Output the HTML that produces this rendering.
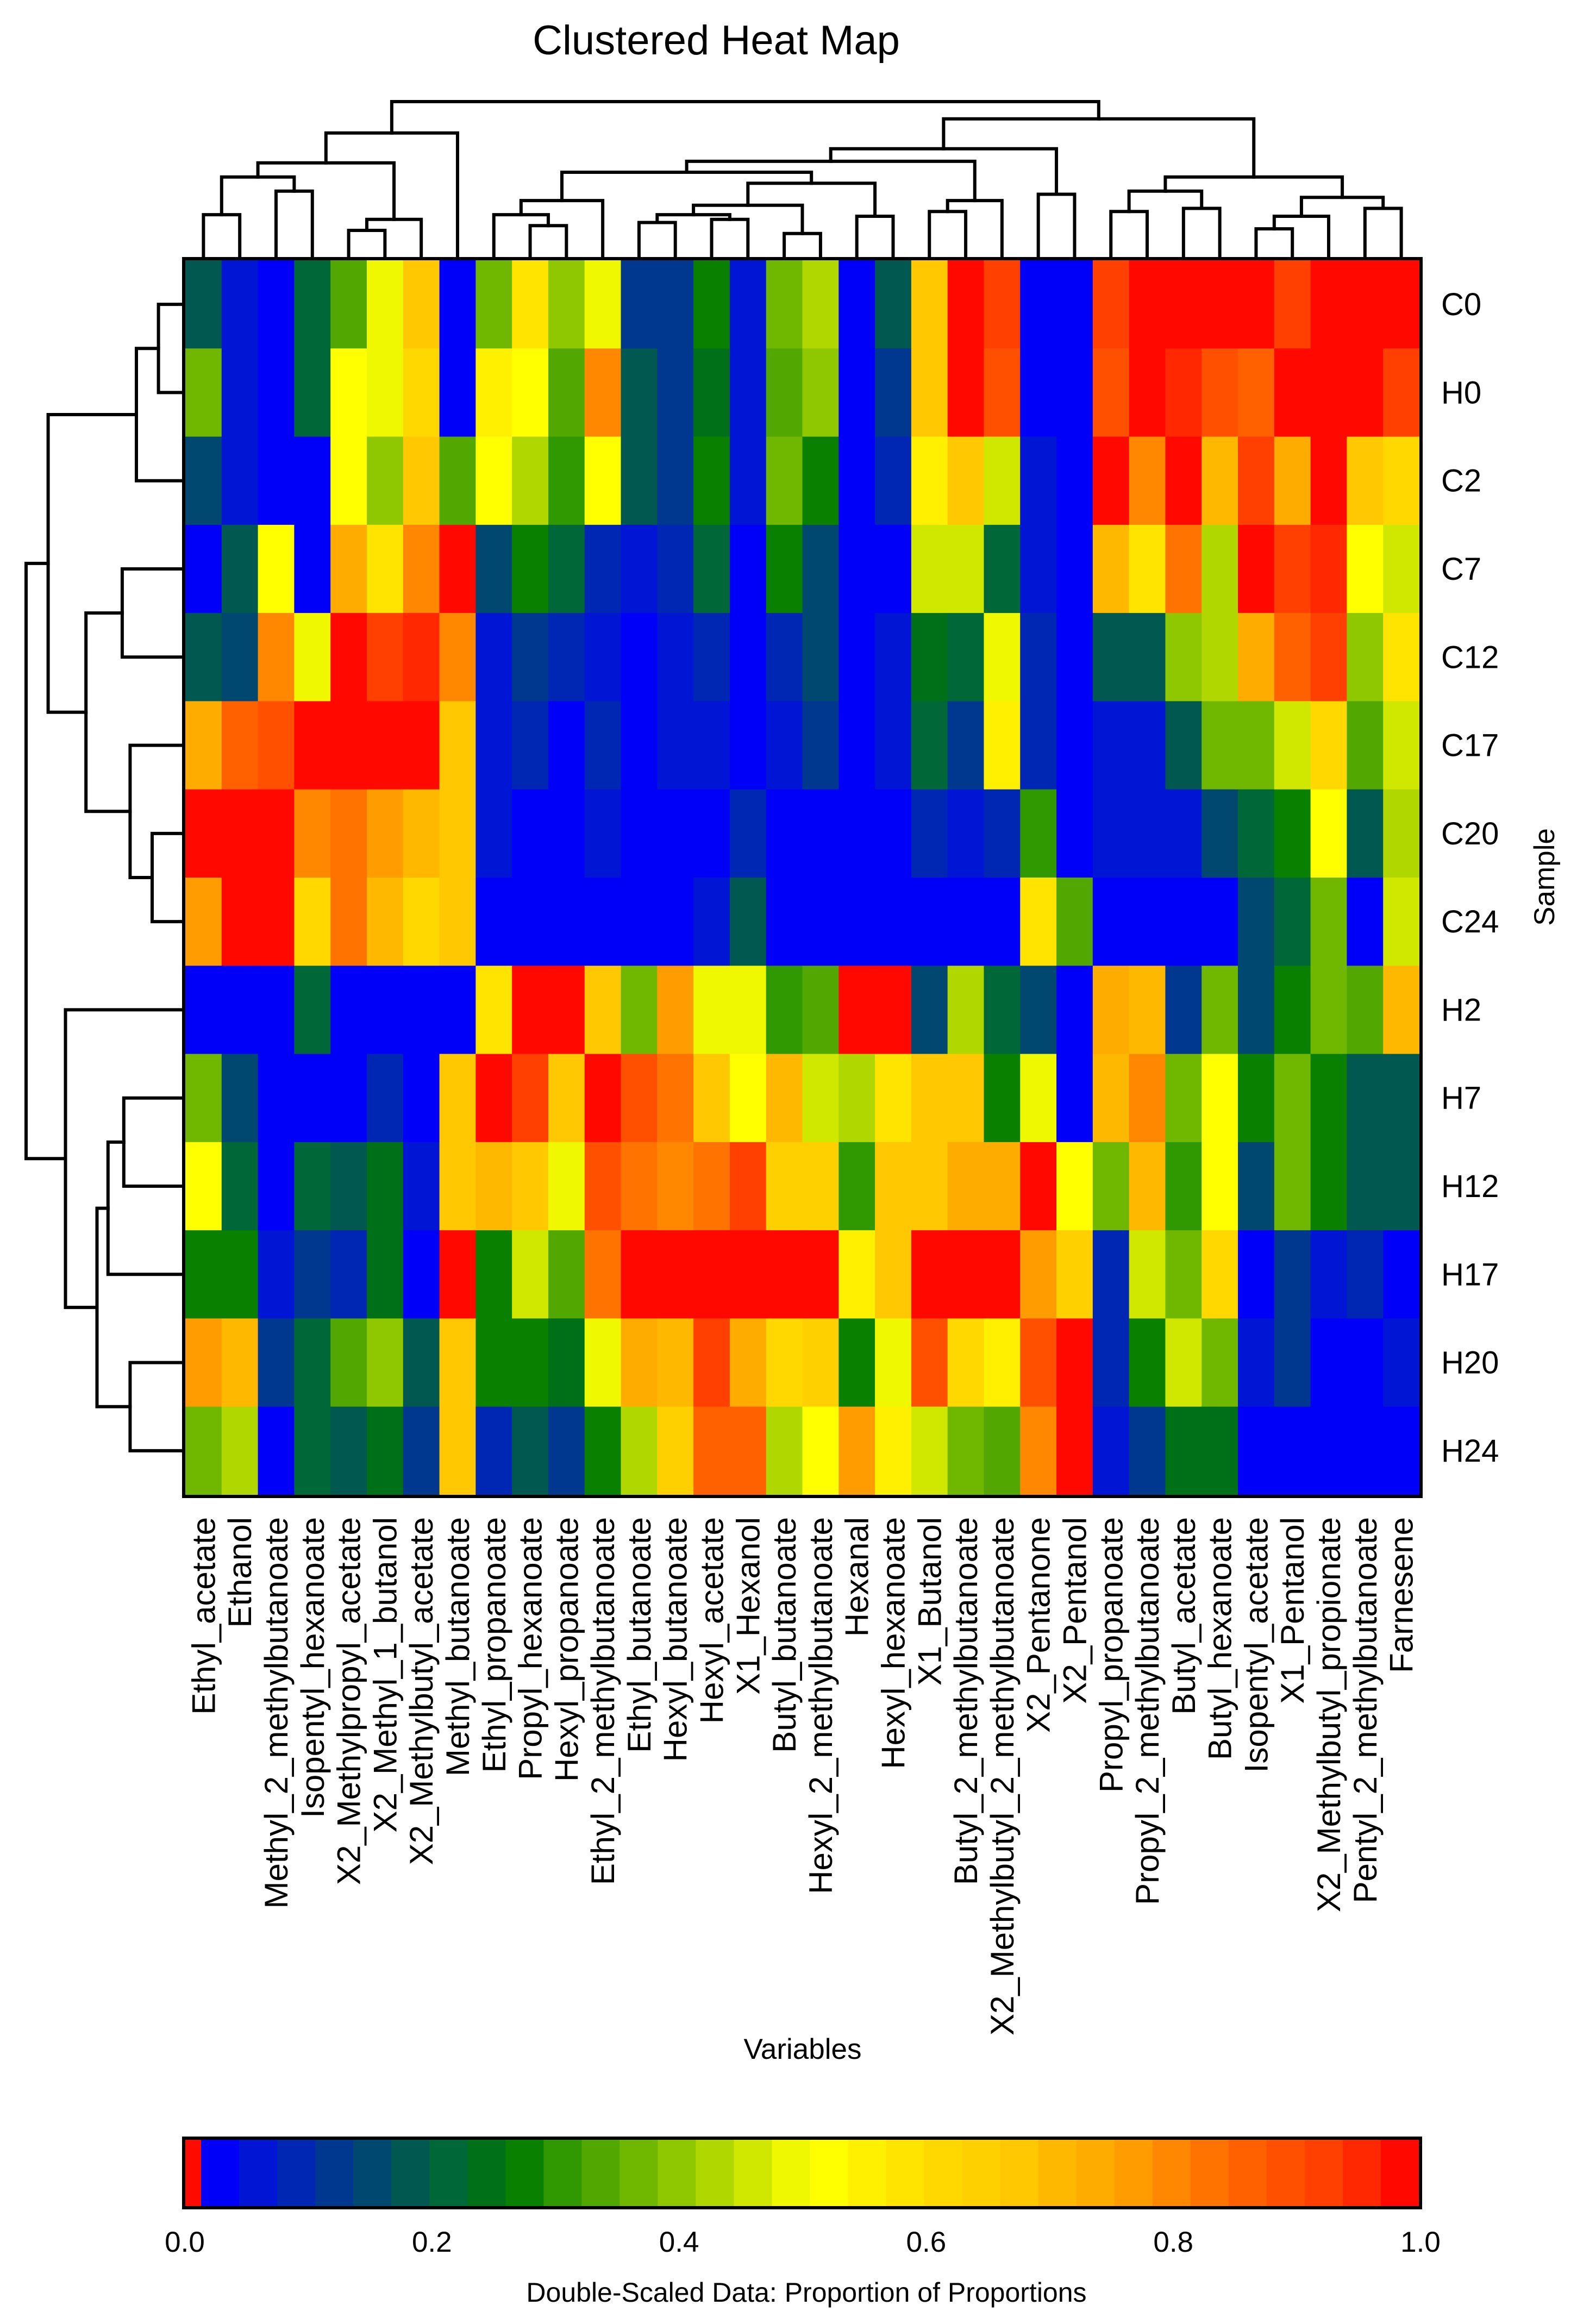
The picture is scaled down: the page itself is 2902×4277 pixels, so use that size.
<!DOCTYPE html>
<html><head><meta charset="utf-8"><title>Clustered Heat Map</title>
<style>html,body{margin:0;padding:0;background:#fff}svg{display:block}text{font-family:"Liberation Sans",Arial,sans-serif;fill:#000}</style>
</head><body>
<svg id="chart" xmlns="http://www.w3.org/2000/svg" width="2902" height="4277" viewBox="0 0 2902 4277">
<rect width="2902" height="4277" fill="#fff"/>
<text x="1318" y="100" font-size="76" text-anchor="middle">Clustered Heat Map</text>
<g id="top-dendro"></g>
<g id="left-dendro"></g>
<g id="cells"></g>
<rect x="338" y="476" width="2277" height="2278" fill="none" stroke="#000" stroke-width="6"/>
<g id="col-labels"></g>
<g id="row-labels"></g>
<text x="1477" y="3789" font-size="53" text-anchor="middle">Variables</text>
<text x="2860" y="1614" font-size="53" text-anchor="middle" transform="rotate(-90 2860 1614)">Sample</text>
<g id="cbar"></g>
<rect x="338" y="3935" width="2276" height="128" fill="none" stroke="#000" stroke-width="6"/>
<g id="cbar-ticks"></g>
<text x="1484" y="4236" font-size="50" text-anchor="middle">Double-Scaled Data: Proportion of Proportions</text>
</svg>
<script>
const columns = ["Ethyl_acetate","Ethanol","Methyl_2_methylbutanoate","Isopentyl_hexanoate","X2_Methylpropyl_acetate","X2_Methyl_1_butanol","X2_Methylbutyl_acetate","Methyl_butanoate","Ethyl_propanoate","Propyl_hexanoate","Hexyl_propanoate","Ethyl_2_methylbutanoate","Ethyl_butanoate","Hexyl_butanoate","Hexyl_acetate","X1_Hexanol","Butyl_butanoate","Hexyl_2_methylbutanoate","Hexanal","Hexyl_hexanoate","X1_Butanol","Butyl_2_methylbutanoate","X2_Methylbutyl_2_methylbutanoate","X2_Pentanone","X2_Pentanol","Propyl_propanoate","Propyl_2_methylbutanoate","Butyl_acetate","Butyl_hexanoate","Isopentyl_acetate","X1_Pentanol","X2_Methylbutyl_propionate","Pentyl_2_methylbutanoate","Farnesene"];
const rows = ["C0","H0","C2","C7","C12","C17","C20","C24","H2","H7","H12","H17","H20","H24"];
const rowC0  = [.18,.06,.03,.21,.34,.49,.68,.03,.37,.58,.40,.49,.12,.12,.28,.06,.37,.43,.03,.18,.68,.98,.92,.03,.03,.92,.98,.98,.98,.98,.92,.98,.98,.98];
const rowH0  = [.37,.06,.03,.21,.52,.49,.61,.03,.55,.52,.34,.80,.18,.12,.25,.06,.34,.40,.03,.12,.68,.98,.89,.03,.03,.89,.98,.95,.89,.86,.98,.98,.98,.92];
const rowC2  = [.15,.06,.03,.03,.52,.40,.68,.34,.52,.43,.31,.52,.18,.12,.28,.06,.37,.28,.03,.09,.55,.68,.46,.06,.03,.98,.80,.98,.71,.92,.74,.98,.68,.61];
const rowC7  = [.03,.18,.52,.03,.74,.58,.80,.98,.15,.28,.21,.09,.06,.09,.21,.03,.28,.15,.03,.03,.46,.46,.21,.06,.03,.71,.58,.83,.43,.98,.92,.95,.52,.46];
const rowC12 = [.18,.15,.80,.49,.98,.92,.95,.80,.06,.12,.09,.06,.03,.06,.09,.03,.09,.15,.03,.06,.25,.21,.49,.09,.03,.18,.18,.40,.43,.74,.86,.92,.40,.58];
const rowC17 = [.74,.86,.89,.98,.98,.98,.98,.68,.06,.09,.03,.09,.03,.06,.06,.03,.06,.12,.03,.06,.21,.12,.55,.09,.03,.06,.06,.18,.37,.37,.46,.61,.34,.46];
const rowC20 = [.98,.98,.98,.80,.83,.77,.71,.68,.06,.03,.03,.06,.03,.03,.03,.09,.03,.03,.03,.03,.09,.06,.09,.31,.03,.06,.06,.06,.15,.21,.28,.52,.18,.43];
const rowC24 = [.77,.98,.98,.61,.83,.71,.61,.68,.03,.03,.03,.03,.03,.03,.06,.18,.03,.03,.03,.03,.03,.03,.03,.58,.34,.03,.03,.03,.03,.15,.21,.37,.03,.46];
const rowH2  = [.03,.03,.03,.21,.03,.03,.03,.03,.58,.98,.98,.68,.37,.77,.49,.49,.31,.34,.98,.98,.15,.43,.21,.15,.03,.74,.71,.12,.37,.15,.28,.37,.34,.71];
const rowH7  = [.37,.15,.03,.03,.03,.09,.03,.68,.98,.92,.68,.98,.89,.83,.68,.52,.71,.46,.43,.58,.68,.68,.28,.49,.03,.71,.80,.37,.52,.28,.37,.28,.18,.18];
const rowH12 = [.52,.21,.03,.21,.18,.25,.06,.68,.71,.68,.49,.89,.83,.80,.83,.92,.65,.65,.31,.68,.68,.74,.74,.98,.52,.37,.71,.31,.52,.15,.37,.28,.18,.18];
const rowH17 = [.28,.28,.06,.12,.09,.25,.03,.98,.28,.46,.34,.83,.98,.98,.98,.98,.98,.98,.55,.68,.98,.98,.98,.77,.65,.09,.46,.37,.61,.03,.12,.06,.09,.03];
const rowH20 = [.77,.71,.12,.21,.34,.40,.18,.68,.28,.28,.25,.49,.74,.71,.92,.74,.61,.65,.28,.49,.89,.61,.55,.89,.98,.09,.28,.46,.37,.06,.12,.03,.03,.06];
const rowH24 = [.37,.43,.03,.21,.18,.25,.12,.68,.09,.18,.12,.28,.43,.65,.86,.86,.43,.52,.77,.55,.46,.37,.34,.80,.98,.06,.12,.25,.25,.03,.03,.03,.03,.03];
const values = [rowC0,rowH0,rowC2,rowC7,rowC12,rowC17,rowC20,rowC24,rowH2,rowH7,rowH12,rowH17,rowH20,rowH24];
const colMerges = [[0,1,.28],[2,3,.43],[34,35,.52],[4,5,.18],[37,6,.25],[36,38,.61],[39,7,.80],[9,10,.21],[8,41,.28],[42,11,.37],[12,13,.23],[14,15,.25],[44,45,.28],[16,17,.16],[46,47,.34],[18,19,.27],[48,49,.48],[43,50,.55],[20,21,.30],[52,22,.37],[51,53,.62],[23,24,.41],[54,55,.70],[25,26,.30],[27,28,.32],[57,58,.43],[29,30,.19],[60,31,.27],[32,33,.32],[61,62,.39],[59,63,.52],[56,64,.89],[40,65,1.0]];
const rowMerges = [[0,1,.16],[14,2,.30],[3,4,.39],[6,7,.20],[5,17,.34],[16,18,.62],[15,19,.86],[9,10,.38],[21,11,.48],[12,13,.34],[22,23,.55],[8,24,.75],[20,25,1.0]];
const palette = ["#0000f8","#0016d4","#0026b4","#003890","#004870","#005850","#006838","#007018","#0a8000","#309800","#52a800","#70b800","#90c800","#b0d800","#d0e800","#f0f800","#ffff00","#fff000","#ffe400","#ffd800","#ffd000","#ffc800","#ffb800","#ffac00","#ff9c00","#ff8800","#ff7400","#ff6000","#ff5000","#ff4000","#ff2800","#ff0800"];
const cbarTicks = [0,0.2,0.4,0.6,0.8,1.0];
const cbarTickLabels = ["0.0","0.2","0.4","0.6","0.8","1.0"];

const NS="http://www.w3.org/2000/svg";
const HX0=341,HX1=2612,HY0=479,HY1=2751;
const cw=(HX1-HX0)/columns.length, ch=(HY1-HY0)/rows.length;
const xCol=i=>HX0+(i+0.5)*cw, yRow=j=>HY0+(j+0.5)*ch;
const TOP_BASE=476, TOP_SCALE=289, LEFT_BASE=338, LEFT_SCALE=290;
const yTop=h=>TOP_BASE-h*TOP_SCALE, xLeft=h=>LEFT_BASE-h*LEFT_SCALE;
function colorFor(v){ if(v<0.0141) return "#ff0000"; let k=Math.floor((v-0.0141)/0.0308); k=Math.max(0,Math.min(31,k)); return palette[k]; }
function mk(tag,attrs,parent){const e=document.createElementNS(NS,tag);for(const k in attrs)e.setAttribute(k,attrs[k]);parent.appendChild(e);return e;}

const cells=document.getElementById("cells");
values.forEach((row,j)=>row.forEach((v,i)=>{
  const r=mk("rect",{x:(HX0+i*cw).toFixed(2),y:(HY0+j*ch).toFixed(2),width:(cw+0.6).toFixed(2),height:(ch+0.6).toFixed(2),fill:colorFor(v)},cells);
  
  
}));

function drawDendro(merges,n,posFn,hFn,horizontalTree,g){
  const pos=[],ht=[];
  for(let i=0;i<n;i++){pos.push(posFn(i));ht.push(0);}
  merges.forEach(m=>{
    const [a,b,h]=m; const pa=pos[a],pb=pos[b]; const lvl=hFn(h);
    const d = horizontalTree
      ? `M${pa},${hFn(ht[a])} V${lvl} H${pb} V${hFn(ht[b])}`
      : `M${hFn(ht[a])},${pa} H${lvl} V${pb} H${hFn(ht[b])}`;
    const p=mk("path",{d:d,fill:"none",stroke:"#000","stroke-width":6,"stroke-linejoin":"miter","stroke-linecap":"square"},g);
    
    
    pos.push((pa+pb)/2); ht.push(h);
  });
}
drawDendro(colMerges,columns.length,xCol,yTop,true,document.getElementById("top-dendro"));
drawDendro(rowMerges,rows.length,yRow,xLeft,false,document.getElementById("left-dendro"));

const cl=document.getElementById("col-labels");
columns.forEach((c,i)=>{
  const x=xCol(i)+21,y=2792;
  const t=mk("text",{x:x,y:y,"font-size":60,"text-anchor":"end",transform:`rotate(-90 ${x} ${y})`},cl);
  t.textContent=c;
  
  
});
const rl=document.getElementById("row-labels");
rows.forEach((r,j)=>{
  const t=mk("text",{x:2652,y:yRow(j)+20,"font-size":58},rl);
  t.textContent=r;
  
  
});

const cb=document.getElementById("cbar");
const CB0=341,CBR=370,CB1=2611,CBY=3938,CBH=122;
const sl=mk("rect",{x:CB0,y:CBY,width:CBR-CB0+0.5,height:CBH,fill:"#ff0a00"},cb);


const sw=(CB1-CBR)/palette.length;
palette.forEach((c,k)=>{
  const r=mk("rect",{x:(CBR+k*sw).toFixed(2),y:CBY,width:(sw+0.6).toFixed(2),height:CBH,fill:c},cb);
  
  
});
const ct=document.getElementById("cbar-ticks");
const xCbar=v=>340+v*2274;
cbarTicks.forEach((v,i)=>{
  const t=mk("text",{x:xCbar(v),y:4144,"font-size":53,"text-anchor":"middle"},ct);
  t.textContent=cbarTickLabels[i];
  
  
});
</script>
</body></html>
